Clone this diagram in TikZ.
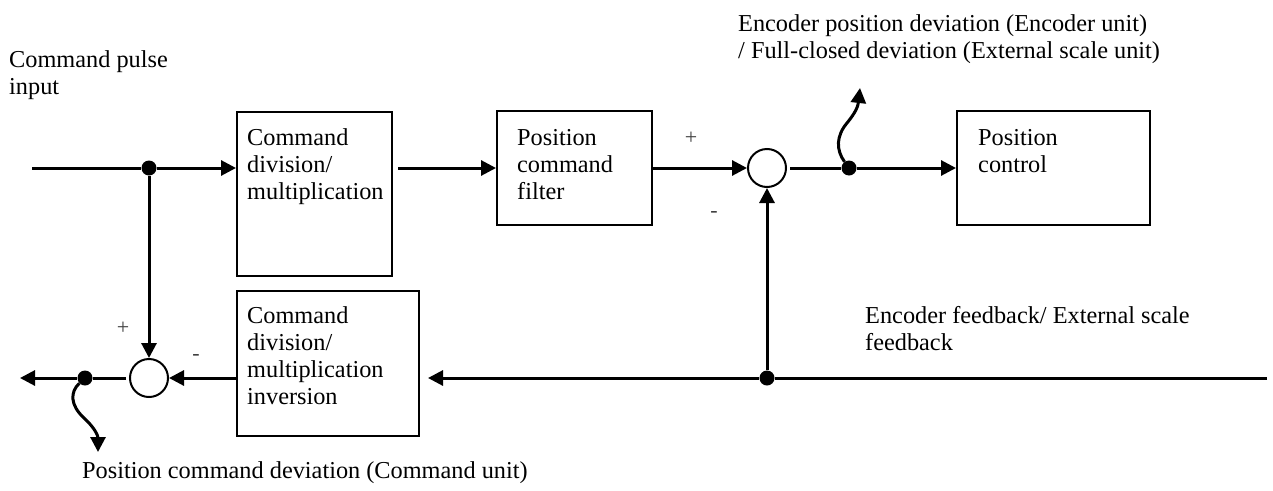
\documentclass[tikz,border=0pt]{standalone}
\usepackage{fontspec}
\setmainfont{Liberation Serif}
\usetikzlibrary{arrows.meta}

\tikzset{
  every node/.style={font=\fontsize{24.3}{27}\selectfont},
  blk/.style={draw, line width=2pt, minimum width=#1, inner sep=0pt},
  sumpt/.style={draw, circle, line width=2pt, minimum size=38pt, inner sep=0pt},
  dot/.style={circle, fill=black, minimum size=15pt, inner sep=0pt},
  % multi-line texts are placed by the baseline of their last line
  txt/.style={anchor=base west, align=left, inner sep=0pt},
  sgn/.style={inner sep=0pt, text=black!75, font=\fontsize{22}{24}\selectfont},
  wire/.style={line width=3pt},
  arr/.style={wire, -{Triangle[length=15pt,width=15pt]}},
}

\begin{document}
\begin{tikzpicture}[x=1pt, y=-1pt]
\useasboundingbox (0,0) rectangle (1273,490);

% blocks
\node[blk=155pt, minimum height=164pt] (b1) at (314.5,194) {};
\node[blk=155pt, minimum height=114pt] (f)  at (574.5,168) {};
\node[blk=193pt, minimum height=114pt] (pc) at (1053.5,168) {};
\node[blk=182pt, minimum height=145pt] (b2) at (328,363.5) {};

% block texts
\node[txt] (b1t) at (247,199) {Command\\division/\\multiplication};
\node[txt] (ft)  at (517,199) {Position\\command\\filter};
\node[txt] (pct) at (978,172) {Position\\control};
\node[txt] (b2t) at (247,404) {Command\\division/\\multiplication\\inversion};

% summing points and branch dots
\node[sumpt] (s1) at (767,168) {};
\node[sumpt] (s2) at (149,378) {};
\node[dot] (d1) at (149,168) {};
\node[dot] (d2) at (849,168) {};
\node[dot] (d3) at (767,378) {};
\node[dot] (d4) at (85,378) {};

% free ends
\coordinate (in)  at (32,168);
\coordinate (out) at (20,378);
\coordinate (fbR) at (1267,378);
\coordinate (w1)  at (860,88);
\coordinate (w2)  at (98,452);

% forward path
\draw[wire] (in) -- (d1);
\draw[arr] (d1) -- (d1 -| b1.west);
\draw[arr] ([xshift=5pt]b1.east |- f.west) -- (f.west);
\draw[arr] (f.east) -- (s1.west);
\draw[wire] ([xshift=3pt]s1.east) -- (d2);
\draw[arr] (d2) -- (pc.west);

% feedback path
\draw[wire] (fbR) -- (d3);
\draw[arr] (d3) -- ([xshift=8pt]b2.east |- d3);
\draw[arr] (d3) -- (s1.south);
\draw[arr] (b2.west |- s2.east) -- (s2.east);
\draw[arr] (d1) -- (s2.north);
\draw[wire] ([xshift=-3pt]s2.west) -- (d4);
\draw[arr] (d4) -- (out);

% deviation outputs
\draw[arr] (d2) .. controls (836,150) and (836,136) .. (847,123)
                .. controls (856,112) and (858,106) .. (w1);
\draw[arr] (d4) .. controls (70,392) and (70,405) .. (84,418)
                .. controls (95,428) and (98,436) .. (w2);

% signs
\node[sgn] (p1) at (691,138) {+};
\node[sgn] (m1) at (714,214) {-};
\node[sgn] (p2) at (123,328) {+};
\node[sgn] (m2) at (196,357) {-};

% labels
\node[txt] (lin)  at (9,94) {Command pulse\\input};
\node[txt] (lenc) at (738,58) {Encoder position deviation (Encoder unit)\\/ Full-closed deviation (External scale unit)};
\node[txt] (lfb)  at (865,350) {Encoder feedback/ External scale\\feedback};
\node[txt] (lcmd) at (82,478) {Position command deviation (Command unit)};
\end{tikzpicture}
\end{document}
